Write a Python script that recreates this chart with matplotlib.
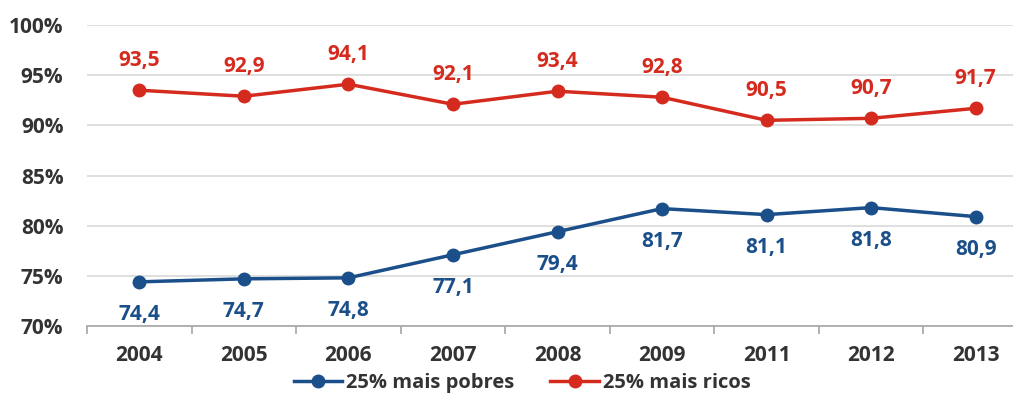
import matplotlib
matplotlib.use('Agg')
import matplotlib.pyplot as plt

# data
anos = ['2004', '2005', '2006', '2007', '2008', '2009', '2011', '2012', '2013']
pobres = [74.4, 74.7, 74.8, 77.1, 79.4, 81.7, 81.1, 81.8, 80.9]
ricos = [93.5, 92.9, 94.1, 92.1, 93.4, 92.8, 90.5, 90.7, 91.7]

azul = '#1b4f8a'
vermelho = '#d52b1e'
cinza = '#333333'

plt.rcParams['font.family'] = ['Open Sans', 'DejaVu Sans']
plt.rcParams['font.weight'] = 'bold'

fig = plt.figure(figsize=(10.13, 3.96), dpi=100)
ax = fig.add_axes([87 / 1013, 1 - 326 / 396, 941 / 1013, 301 / 396])

x = list(range(len(anos)))
l1, = ax.plot(x, pobres, '-o', color=azul, lw=2.5, ms=9, label='25% mais pobres')
l2, = ax.plot(x, ricos, '-o', color=vermelho, lw=2.5, ms=9, label='25% mais ricos')

# value labels
for xi, v in zip(x, pobres):
    ax.annotate(f'{v:.1f}'.replace('.', ','), (xi, v), xytext=(0, -33),
                textcoords='offset pixels', ha='center', va='center',
                color=azul, fontsize=15, fontweight='bold')
for xi, v in zip(x, ricos):
    ax.annotate(f'{v:.1f}'.replace('.', ','), (xi, v), xytext=(0, 30),
                textcoords='offset pixels', ha='center', va='center',
                color=vermelho, fontsize=15, fontweight='bold')

ax.set_ylim(70, 100)
ax.set_xlim(-0.5, len(anos) - 0.5)
ax.set_yticks([70, 75, 80, 85, 90, 95, 100])
ax.set_yticklabels([f'{t}%' for t in [70, 75, 80, 85, 90, 95, 100]])
ax.yaxis.grid(True, color='#d9d9d9', lw=1.2)
ax.set_axisbelow(True)
ax.tick_params(axis='y', length=0, pad=17, labelsize=15, labelcolor=cinza)

ax.set_xticks(x)
ax.set_xticklabels(anos)
ax.set_xticks([i - 0.5 for i in range(len(anos) + 1)], minor=True)
ax.tick_params(axis='x', which='major', length=0, pad=14, labelsize=15, labelcolor=cinza)
ax.tick_params(axis='x', which='minor', length=6, color='#a6a6a6', width=1.2)

for s in ['top', 'right', 'left']:
    ax.spines[s].set_visible(False)
ax.spines['bottom'].set_color('#a6a6a6')
ax.spines['bottom'].set_linewidth(1.2)

fig.legend(handles=[l1, l2], loc='center', bbox_to_anchor=(522 / 1013, 1 - 383 / 396),
           ncol=2, frameon=False, fontsize=14.5, handlelength=2.4, columnspacing=1.8,
           handletextpad=0.2, labelcolor=cinza, borderaxespad=0)

plt.savefig('out.png', dpi=100)
